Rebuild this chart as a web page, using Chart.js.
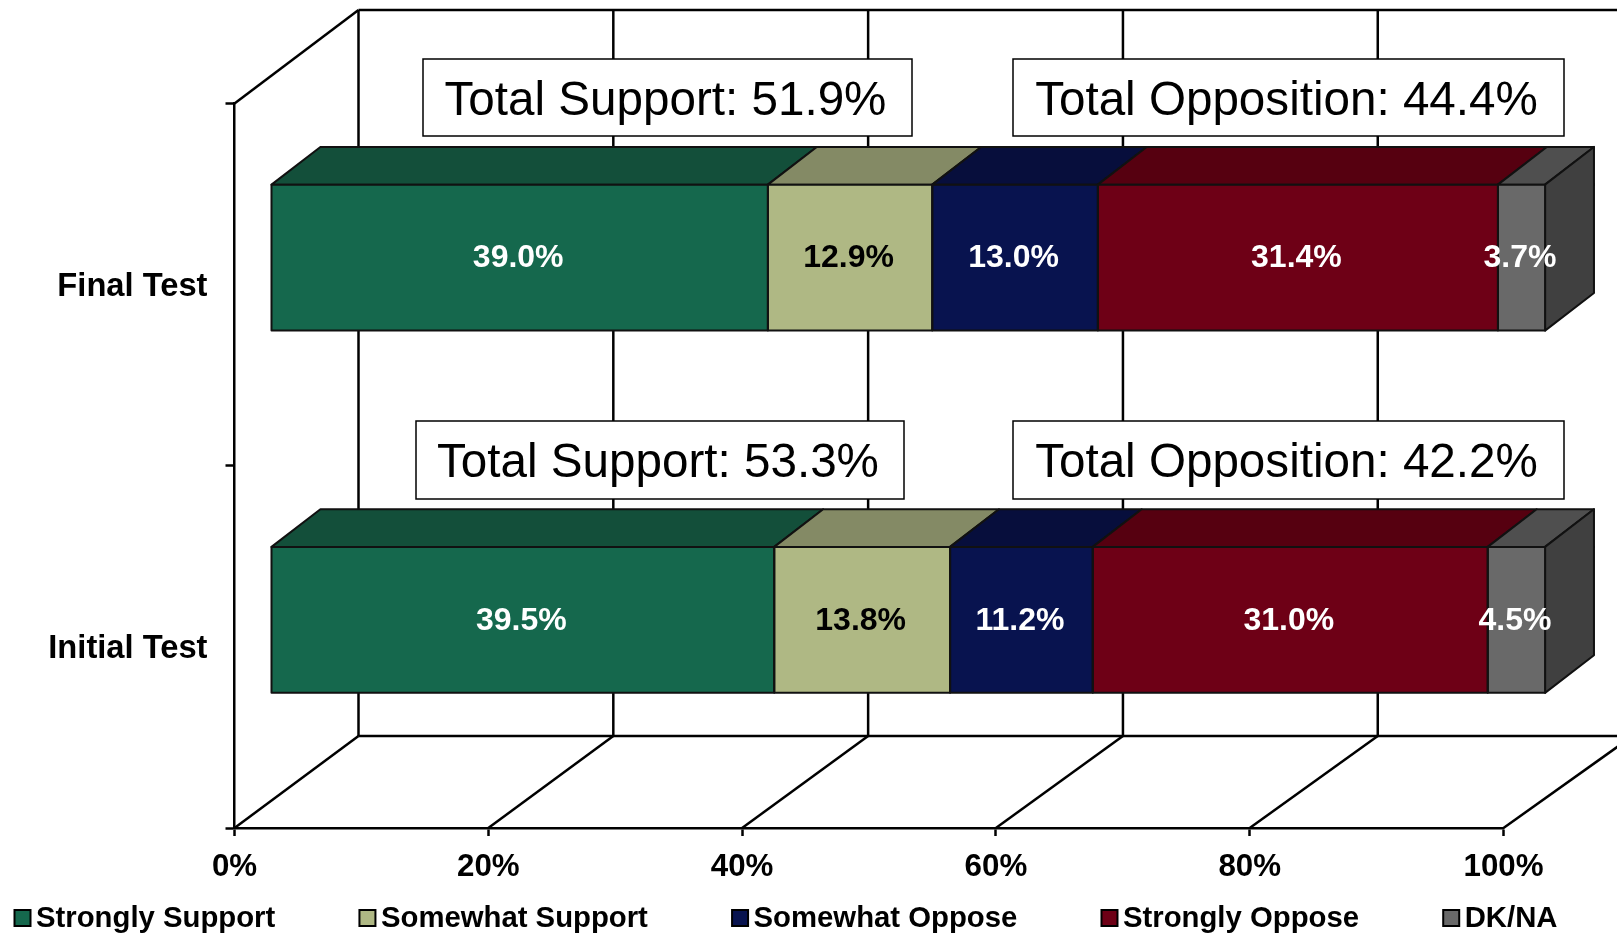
<!DOCTYPE html>
<html>
<head>
<meta charset="utf-8">
<script src="https://cdn.jsdelivr.net/npm/chart.js@4"></script>
<style>
html, body { margin: 0; padding: 0; background: #fff; }
#wrap { position: relative; width: 1617px; height: 934px; overflow: hidden; }
</style>
</head>
<body>
<div id="wrap"><canvas id="myChart"></canvas></div>
<script>
const categories = ["Final Test", "Initial Test"];
const seriesNames = ["Strongly Support", "Somewhat Support", "Somewhat Oppose", "Strongly Oppose", "DK/NA"];
const stronglySupport = [39.0, 39.5];
const somewhatSupport = [12.9, 13.8];
const somewhatOppose = [13.0, 11.2];
const stronglyOppose = [31.4, 31.0];
const dkNa = [3.7, 4.5];
const xTicks = [0, 20, 40, 60, 80, 100];
const totalLabels = ["Total Support: 51.9%", "Total Opposition: 44.4%", "Total Support: 53.3%", "Total Opposition: 42.2%"];

const frontColors = ["#15684d", "#afb884", "#08134f", "#6e0016", "#696969"];
const topColors = ["#134f3a", "#848a65", "#070e3c", "#560010", "#4f4f4f"];
const sideColor = "#404040";
const textColors = ["#fff", "#000", "#fff", "#fff", "#fff"];
const valueSets = [stronglySupport, somewhatSupport, somewhatOppose, stronglyOppose, dkNa];

// wall depth, bar depth and how far the bars sit in front of the back wall
const wallDx = 124, wallDy = 92, wallTopDy = 93.5;
const barDx = 48.7, barDy = 37.7;
const barShiftX = 36.5, barShiftY = 27;
const stretch = 1.004; // things further back come out a bit wider

const boxes = [
	{ x: 423, y: 59, w: 489, h: 77 },
	{ x: 1013, y: 59, w: 551, h: 77 },
	{ x: 416, y: 421, w: 488, h: 78 },
	{ x: 1013, y: 421, w: 551, h: 78 }
];

const FONT = "'Liberation Sans', Arial, sans-serif";

function line(ctx, x1, y1, x2, y2) {
	ctx.beginPath();
	ctx.moveTo(x1, y1);
	ctx.lineTo(x2, y2);
	ctx.stroke();
}

function poly(ctx, pts, fill) {
	ctx.beginPath();
	ctx.moveTo(pts[0][0], pts[0][1]);
	for (var i = 1; i < pts.length; i++) ctx.lineTo(pts[i][0], pts[i][1]);
	ctx.closePath();
	ctx.fillStyle = fill;
	ctx.fill();
	ctx.stroke();
}

const box3d = {
	id: 'box3d',
	beforeDatasetsDraw: function(chart) {
		var ctx = chart.ctx, area = chart.chartArea, xs = chart.scales.x;

		// walls and floor
		ctx.save();
		ctx.strokeStyle = "#000";
		ctx.lineWidth = 2.5;
		var backTop = area.top - wallTopDy, backBottom = area.bottom - wallDy;
		line(ctx, area.left, area.top, area.left + wallDx, backTop);
		line(ctx, area.left + wallDx, backTop, chart.width, backTop);
		line(ctx, area.left + wallDx, backBottom, chart.width, backBottom);
		xTicks.forEach(function(t) {
			var px = xs.getPixelForValue(t);
			var backX = area.left + wallDx + (px - area.left) * stretch;
			line(ctx, px, area.bottom, backX, backBottom);
			line(ctx, backX, backBottom, backX, backTop);
		});
		ctx.restore();

		// everything of the bars is drawn shifted off the front axis
		ctx.save();
		ctx.translate(area.left + barShiftX, -barShiftY);
		ctx.scale(stretch, 1);
		ctx.translate(-area.left, 0);

		ctx.strokeStyle = "#111";
		ctx.lineWidth = 2;
		ctx.lineJoin = "round";
		chart.data.datasets.forEach(function(ds, i) {
			chart.getDatasetMeta(i).data.forEach(function(bar) {
				var p = bar.getProps(['x', 'y', 'base', 'height'], true);
				var top = p.y - p.height / 2, bottom = p.y + p.height / 2;
				poly(ctx, [[p.base, top], [p.base + barDx, top - barDy], [p.x + barDx, top - barDy], [p.x, top]], topColors[i]);
				if (i === chart.data.datasets.length - 1) {
					poly(ctx, [[p.x, top], [p.x + barDx, top - barDy], [p.x + barDx, bottom - barDy], [p.x, bottom]], sideColor);
				}
			});
		});
	},
	afterDatasetsDraw: function(chart) {
		var ctx = chart.ctx;

		// outlines sit on the bar edges, still inside the shifted drawing
		chart.data.datasets.forEach(function(ds, i) {
			chart.getDatasetMeta(i).data.forEach(function(bar) {
				var p = bar.getProps(['x', 'y', 'base', 'height'], true);
				ctx.strokeRect(p.base, p.y - p.height / 2, p.x - p.base, p.height);
			});
		});
		ctx.restore();

		// value labels
		ctx.save();
		ctx.font = "bold 32px " + FONT;
		ctx.textAlign = "center";
		ctx.textBaseline = "middle";
		chart.data.datasets.forEach(function(ds, i) {
			chart.getDatasetMeta(i).data.forEach(function(bar, j) {
				var p = bar.getProps(['x', 'y', 'base'], true);
				var mid = chart.chartArea.left + ((p.x + p.base) / 2 - chart.chartArea.left) * stretch + barShiftX;
				ctx.fillStyle = textColors[i];
				ctx.fillText(valueSets[i][j].toFixed(1) + "%", mid - 1.5, p.y - barShiftY + 1);
			});
		});

		// total boxes
		ctx.font = "47.6px " + FONT;
		boxes.forEach(function(b, i) {
			ctx.fillStyle = "#fff";
			ctx.strokeStyle = "#000";
			ctx.lineWidth = 1.5;
			ctx.fillRect(b.x, b.y, b.w, b.h);
			ctx.strokeRect(b.x, b.y, b.w, b.h);
			ctx.fillStyle = "#000";
			ctx.fillText(totalLabels[i], b.x + b.w / 2 - 2, b.y + b.h / 2 + 4);
		});

		// legend, the gaps between items are all the same
		ctx.font = "bold 29.3px " + FONT;
		ctx.textAlign = "left";
		var lx = 14.5, ly = 918;
		seriesNames.forEach(function(name, i) {
			ctx.fillStyle = frontColors[i];
			ctx.strokeStyle = "#000";
			ctx.lineWidth = 2;
			ctx.fillRect(lx, ly - 8, 16, 16);
			ctx.strokeRect(lx, ly - 8, 16, 16);
			ctx.fillStyle = "#000";
			ctx.fillText(name, lx + 21.5, ly + 1);
			lx += 21.5 + ctx.measureText(name).width + 84.2;
		});
		ctx.restore();
	}
};

new Chart("myChart", {
	type: "bar",
	data: {
		labels: categories,
		datasets: seriesNames.map(function(name, i) {
			return {
				label: name,
				data: valueSets[i],
				backgroundColor: frontColors[i],
				borderWidth: 0,
				barPercentage: 0.403,
				categoryPercentage: 1,
				clip: false
			};
		})
	},
	plugins: [box3d],
	options: {
		indexAxis: "y",
		responsive: true,
		maintainAspectRatio: false,
		animation: false,
		layout: { padding: { left: 0, right: 113.5, top: 103.5, bottom: 0 } },
		plugins: {
			legend: { display: false },
			tooltip: { enabled: false }
		},
		scales: {
			x: {
				stacked: true,
				min: 0,
				max: 100,
				afterFit: function(s) { s.height = 106; },
				afterBuildTicks: function(s) { s.ticks = xTicks.map(function(v) { return { value: v }; }); },
				grid: { drawOnChartArea: false, color: "#000", tickLength: 8, tickWidth: 2.5 },
				border: { color: "#000", width: 2.5 },
				ticks: {
					color: "#000",
					maxRotation: 0,
					padding: 13,
					font: { family: FONT, size: 31.3, weight: "bold" },
					callback: function(v) { return v + "%"; }
				}
			},
			y: {
				stacked: true,
				afterFit: function(s) { s.width = 234.5; },
				grid: { drawOnChartArea: false, color: "#000", tickLength: 9, tickWidth: 2.5 },
				border: { color: "#000", width: 2.5 },
				ticks: {
					color: "#000",
					padding: 18,
					labelOffset: 2,
					font: { family: FONT, size: 32.7, weight: "bold" }
				}
			}
		}
	}
});
</script>
</body>
</html>
